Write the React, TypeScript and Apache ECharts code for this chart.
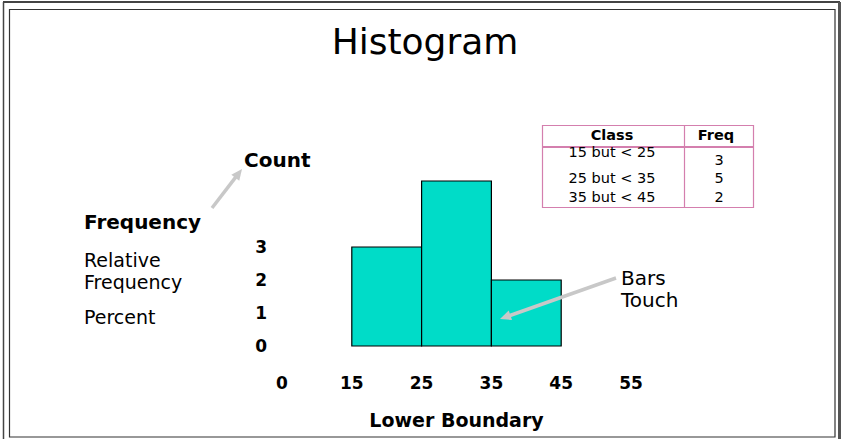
import React, { useEffect, useRef } from "react";
import * as echarts from "echarts";

// ---- data ----
const classLower = [15, 25, 35];
const classUpper = [25, 35, 45];
const frequencies = [3, 5, 2];
const classLabels = ["15 but < 25", "25 but < 35", "35 but < 45"];
const xTickLabels = ["0", "15", "25", "35", "45", "55"];
const yTickLabels = ["0", "1", "2", "3"];
const tableHeaders = ["Class", "Freq"];
const titleText = "Histogram";
const xAxisTitle = "Lower Boundary";
const sideTitle = "Frequency";
const sideAlternatives = ["Count", "Relative\nFrequency", "Percent"];
const noteText = "Bars\nTouch";

// ---- layout constants ----
const FONT = "'DejaVu Sans', sans-serif";
const PINK = "#d47fae";
const ARROW = "#c8c8c8";
const classRowY = [152, 178, 197];
const freqRowY = [160, 178, 197];

function arrow(x1: number, y1: number, x2: number, y2: number) {
  const dx = x2 - x1;
  const dy = y2 - y1;
  const len = Math.sqrt(dx * dx + dy * dy);
  const ux = dx / len;
  const uy = dy / len;
  const hl = 11;
  const hw = 5;
  const bx = x2 - ux * hl;
  const by = y2 - uy * hl;
  return {
    type: "group",
    z: 50,
    children: [
      {
        type: "line",
        z: 50,
        shape: { x1, y1, x2: bx + ux * 2, y2: by + uy * 2 },
        style: { stroke: ARROW, lineWidth: 3.5 },
      },
      {
        type: "polygon",
        z: 50,
        shape: {
          points: [
            [x2, y2],
            [bx - uy * hw, by + ux * hw],
            [bx + uy * hw, by - ux * hw],
          ],
        },
        style: { fill: ARROW },
      },
    ],
  };
}

function txt(
  text: string,
  x: number,
  y: number,
  size: number,
  weight: string,
  align: string,
  lineHeight?: number
) {
  return {
    type: "text",
    z: 50,
    x,
    y,
    style: {
      text,
      fill: "#000",
      fontFamily: FONT,
      fontSize: size,
      fontWeight: weight,
      textAlign: align,
      textVerticalAlign: "middle",
      lineHeight: lineHeight,
    },
  };
}

export default function App() {
  const ref = useRef<HTMLDivElement>(null);

  useEffect(() => {
    if (!ref.current) return;
    const chart = echarts.init(ref.current, undefined, { renderer: "svg" });

    const graphics: any[] = [
      // frame
      { type: "line", shape: { x1: 3, y1: 2, x2: 840, y2: 2 }, style: { stroke: "#444", lineWidth: 2 } },
      { type: "line", shape: { x1: 3.5, y1: 2, x2: 3.5, y2: 439 }, style: { stroke: "#444", lineWidth: 1.5 } },
      { type: "line", shape: { x1: 839.5, y1: 2, x2: 839.5, y2: 439 }, style: { stroke: "#555", lineWidth: 3 } },
      {
        type: "rect",
        shape: { x: 9.5, y: 9.5, width: 825.5, height: 427.5 },
        style: { fill: "none", stroke: "#333", lineWidth: 1.2 },
      },
      // title
      txt(titleText, 425, 41, 36, "normal", "center"),
      // side labels
      txt(sideAlternatives[0], 244, 160, 20, "bold", "left"),
      txt(sideTitle, 84, 222, 20, "bold", "left"),
      txt(sideAlternatives[1], 84, 271, 19, "normal", "left", 22.5),
      txt(sideAlternatives[2], 84, 317, 19, "normal", "left"),
      txt(noteText, 621, 289, 20, "normal", "left", 22.5),
      arrow(212, 208, 242, 169),
      arrow(616, 278, 500, 319),
      // table
      {
        type: "rect",
        shape: { x: 542.5, y: 125.5, width: 211, height: 82 },
        style: { fill: "none", stroke: PINK, lineWidth: 1.2 },
      },
      { type: "line", shape: { x1: 542, y1: 147, x2: 754, y2: 147 }, style: { stroke: PINK, lineWidth: 2 } },
      { type: "line", shape: { x1: 684.5, y1: 125, x2: 684.5, y2: 207 }, style: { stroke: PINK, lineWidth: 1.2 } },
      txt(tableHeaders[0], 612, 135, 14.5, "bold", "center"),
      txt(tableHeaders[1], 716, 135, 14.5, "bold", "center"),
    ];
    classLabels.forEach((c, i) => {
      graphics.push(txt(c, 612, classRowY[i], 14.5, "normal", "center"));
      graphics.push(txt(String(frequencies[i]), 719, freqRowY[i], 14.5, "normal", "center"));
    });

    chart.setOption({
      animation: false,
      backgroundColor: "#fff",
      grid: { left: 282, right: 210, top: 181, bottom: 93, containLabel: false },
      xAxis: {
        type: "value",
        min: 5,
        max: 55,
        interval: 10,
        axisLine: { show: false },
        axisTick: { show: false },
        splitLine: { show: false },
        axisLabel: {
          formatter: (v: number) => xTickLabels[Math.round((v - 5) / 10)] ?? "",
          color: "#000",
          fontFamily: FONT,
          fontWeight: "bold",
          fontSize: 17,
          margin: 28,
        },
        name: xAxisTitle,
        nameLocation: "middle",
        nameGap: 64,
        nameTextStyle: { color: "#000", fontFamily: FONT, fontWeight: "bold", fontSize: 19 },
      },
      yAxis: {
        type: "value",
        min: 0,
        max: 5,
        interval: 1,
        axisLine: { show: false },
        axisTick: { show: false },
        splitLine: { show: false },
        axisLabel: {
          formatter: (v: number) => (v < yTickLabels.length ? yTickLabels[v] : ""),
          color: "#000",
          fontFamily: FONT,
          fontWeight: "bold",
          fontSize: 17,
          margin: 15,
        },
      },
      series: [
        {
          type: "custom",
          z: 2,
          renderItem: (params: any, api: any) => {
            const lo = api.value(0);
            const hi = api.value(1);
            const v = api.value(2);
            const p0 = api.coord([lo, v]);
            const p1 = api.coord([hi, 0]);
            return {
              type: "rect",
              shape: { x: p0[0], y: p0[1], width: p1[0] - p0[0], height: p1[1] - p0[1] },
              style: { fill: "#00dcc8", stroke: "#000", lineWidth: 1.2 },
            };
          },
          encode: { x: [0, 1], y: 2 },
          data: classLower.map((l, i) => [l, classUpper[i], frequencies[i]]),
        },
      ],
      graphic: { elements: graphics, z: 50 },
    });

    return () => chart.dispose();
  }, []);

  return (
    <div
      ref={ref}
      style={{ position: "fixed", left: 0, top: 0, width: 841, height: 439 }}
    />
  );
}
